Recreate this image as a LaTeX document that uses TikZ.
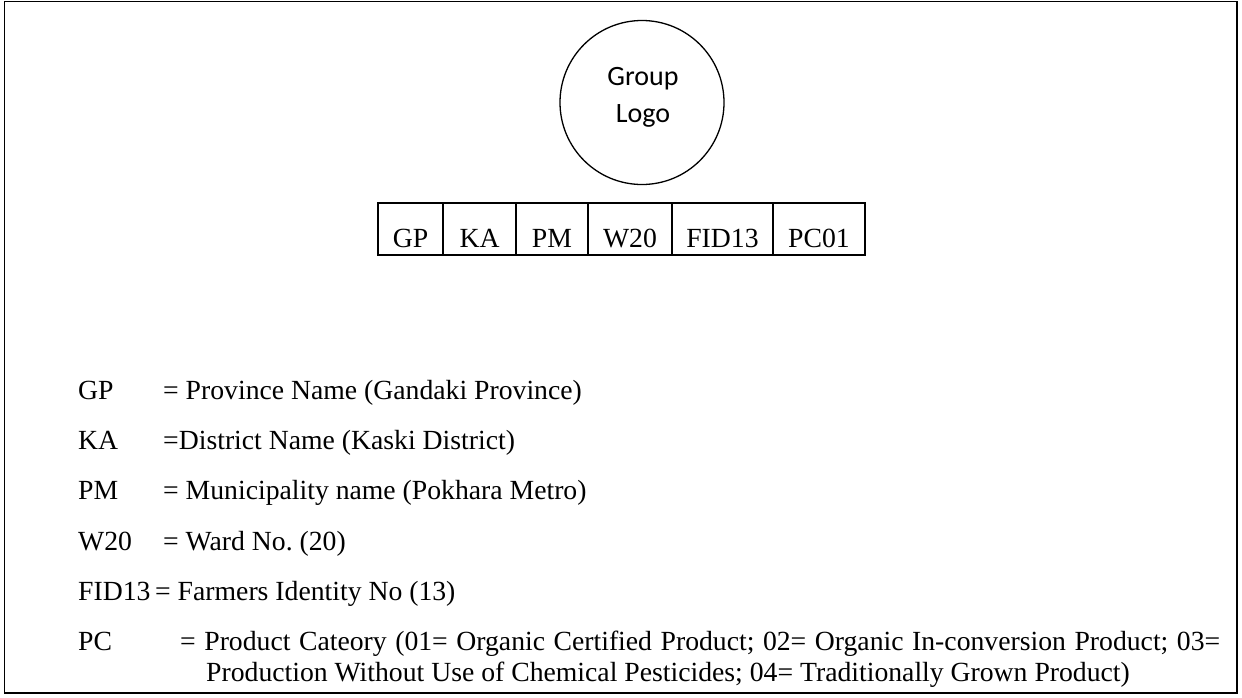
\documentclass[tikz,border=0pt]{standalone}
\usepackage{fontspec}
\setmainfont{Liberation Serif}
\newfontfamily\calibri{Carlito}
\frenchspacing
\begin{document}
\begin{tikzpicture}[x=1pt,y=-1pt,
  txt/.style={inner sep=0pt,anchor=base west,font=\fontsize{27.7}{33}\selectfont\frenchspacing},
  celltxt/.style={inner sep=0pt,anchor=base,font=\fontsize{27.7}{33}\selectfont},
  logotxt/.style={inner sep=0pt,anchor=base,font=\calibri\fontsize{28}{34}\selectfont},
  line/.style={draw=black,line width=1.3pt}]
\useasboundingbox (0,0) rectangle (1242,697);
% outer frame
\draw[line width=1.8pt] (4.5,1.5) rectangle (1237,693);
% logo circle
\node[line,circle,minimum size=164pt,inner sep=0pt] (logo) at (642,102.5) {};
\node[logotxt] (g1) at (643,85) {Group};
\node[logotxt] (g2) at (643,122) {Logo};
% code table
\foreach \a/\b/\t [count=\i] in {378/443/GP,443/516/KA,516/588/PM,588/672/W20,672/773/FID13,773/865/PC01}{
  \draw[line] (\a,203) rectangle (\b,255);
  \node[celltxt] (c\i) at ({(\a+\b)/2},247) {\t};
}
% legend
\node[txt] (l1) at (78,399) {GP};
\node[txt] (d1) at (163,399) {= Province Name (Gandaki Province)};
\node[txt] (l2) at (78,449) {KA};
\node[txt] (d2) at (163,449) {=District Name (Kaski District)};
\node[txt] (l3) at (78,499) {PM};
\node[txt] (d3) at (163,499) {= Municipality name (Pokhara Metro)};
\node[txt] (l4) at (78,550) {W20};
\node[txt] (d4) at (163,550) {= Ward No. (20)};
\node[txt] (l5) at (78,600) {FID13};
\node[txt] (d5) at (155,600) {= Farmers Identity No (13)};
\node[txt] (l6) at (78,650) {PC};
\node[txt] (d6) at (180,650) {\makebox[1040pt][s]{= Product Cateory (01= Organic Certified Product; 02= Organic In-conversion Product; 03=}};
\node[txt] (d7) at (206,681) {Production Without Use of Chemical Pesticides; 04= Traditionally Grown Product)};
\end{tikzpicture}
\end{document}
